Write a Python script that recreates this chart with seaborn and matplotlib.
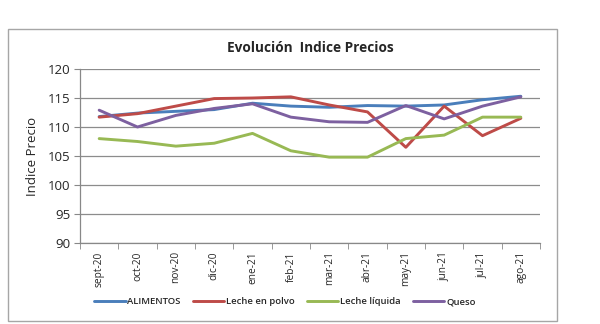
import matplotlib
matplotlib.use("Agg")
import matplotlib.pyplot as plt
from matplotlib.patches import Rectangle
from matplotlib.ticker import FixedLocator
import seaborn as sns
import pandas as pd

months = ["sept-20", "oct-20", "nov-20", "dic-20", "ene-21", "feb-21",
          "mar-21", "abr-21", "may-21", "jun-21", "jul-21", "ago-21"]
alimentos = [111.8, 112.4, 112.7, 113.0, 114.1, 113.6, 113.4, 113.7, 113.6, 113.8, 114.7, 115.3]
leche_polvo = [111.7, 112.3, 113.6, 114.9, 115.0, 115.2, 113.8, 112.6, 106.5, 113.6, 108.5, 111.5]
leche_liquida = [108.0, 107.5, 106.7, 107.2, 108.9, 105.9, 104.8, 104.8, 108.0, 108.6, 111.7, 111.7]
queso = [112.9, 110.0, 112.0, 113.2, 114.0, 111.7, 110.9, 110.8, 113.7, 111.4, 113.6, 115.2]

series_names = ["ALIMENTOS", "Leche en polvo", "Leche líquida", "Queso"]
series_values = [alimentos, leche_polvo, leche_liquida, queso]
colors = ["#4A7EBB", "#BE4B48", "#98B954", "#7D60A0"]

rows = []
for name, vals in zip(series_names, series_values):
    for i, v in enumerate(vals):
        rows.append({"x": i, "Mes": months[i], "Serie": name, "Valor": v})
df = pd.DataFrame(rows)

sns.set_style("white")
plt.rcParams["font.family"] = ["Open Sans", "DejaVu Sans"]

fig = plt.figure(figsize=(6.0, 3.24), dpi=100)
ax = fig.add_axes([80/600, 1-243/324, 460/600, 174/324])

sns.lineplot(data=df, x="x", y="Valor", hue="Serie", hue_order=series_names,
             palette=colors, linewidth=2.1, ax=ax, legend=True)

ax.set_xlim(-0.5, 11.5)
ax.set_ylim(90, 120)
ax.set_yticks(range(90, 121, 5))
ax.set_xticks(range(12))
ax.set_xticklabels(months, rotation=90, fontsize=7.3)
ax.xaxis.set_minor_locator(FixedLocator([i - 0.5 for i in range(13)]))
ax.tick_params(axis="x", which="major", length=0, pad=6)
ax.tick_params(axis="x", which="minor", length=4, color="#888888", direction="out", bottom=True)
ax.tick_params(axis="y", labelsize=9.5, length=4, color="#888888", left=True, pad=3)
ax.grid(axis="y", color="#8C8C8C", linewidth=0.9)
ax.set_axisbelow(True)
for s in ["top", "right"]:
    ax.spines[s].set_visible(False)
for s in ["left", "bottom"]:
    ax.spines[s].set_color("#888888")
    ax.spines[s].set_linewidth(0.9)
ax.set_xlabel("")
ax.set_ylabel("Indice Precio", fontsize=9.5, labelpad=6)

ax.set_title("Evolución  Indice Precios", fontsize=9.8, fontweight="bold", pad=12)

handles, labels = ax.get_legend_handles_labels()
ax.legend_.remove()
leg = fig.legend(handles, labels, loc="center", bbox_to_anchor=(285/600, 1-302/324),
                 ncol=4, frameon=False, fontsize=6.8, handlelength=3.3,
                 columnspacing=1.3, handletextpad=0.2)
for t in leg.get_texts():
    t.set_fontweight("semibold")

fig.patches.append(Rectangle((8/600, 1-321/324), 549/600, 292/324,
                             transform=fig.transFigure, fill=False,
                             edgecolor="#A6A6A6", linewidth=1.0))

fig.savefig("out.png", dpi=100)
